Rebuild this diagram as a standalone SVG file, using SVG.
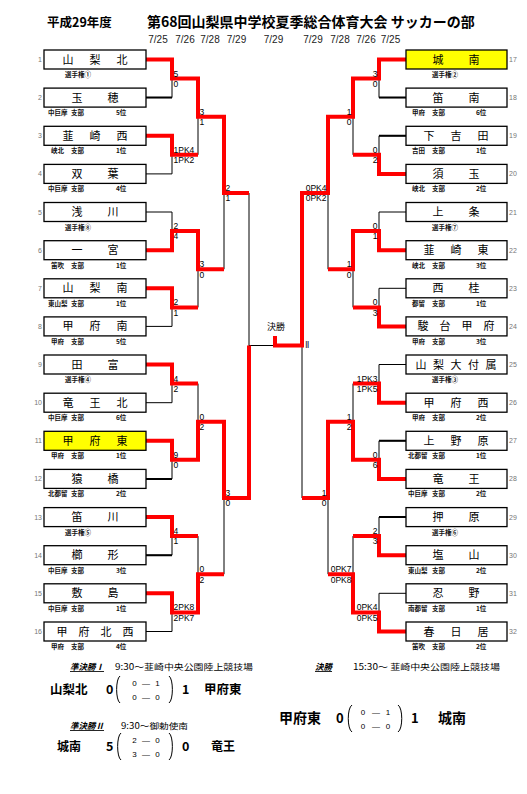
<svg xmlns="http://www.w3.org/2000/svg" width="527" height="794" viewBox="0 0 527 794">
<style>
.box{fill:#fff;stroke:#000;stroke-width:1.3}
.yel{fill:#ffff00}
.nm{font-family:"Noto Sans CJK JP",sans-serif;font-size:11px;text-anchor:middle;fill:#000}
.no{font-family:"Liberation Sans",sans-serif;font-size:7px;fill:#777}
.nl{text-anchor:end}
.sub{font-family:"Noto Sans CJK JP",sans-serif;font-size:6.5px;font-weight:bold;fill:#111}
.sc{font-family:"Liberation Sans",sans-serif;font-size:8.5px;fill:#000}
.scr{text-anchor:end}
.bk{fill:none;stroke:#000;stroke-width:1}
.bk2{fill:none;stroke:#000;stroke-width:2}
.rd{fill:none;stroke:#f00;stroke-width:4;stroke-linejoin:miter}
.hd{font-family:"Noto Sans CJK JP",sans-serif;fill:#000}
.dt{font-family:"Liberation Sans",sans-serif;font-size:10px;text-anchor:middle;fill:#222}
.bt{font-family:"Noto Sans CJK JP",sans-serif;font-size:8.5px;fill:#000}
.ttl{font-family:"Noto Sans CJK JP",sans-serif;font-size:8.5px;font-weight:bold;font-style:italic;text-decoration:underline;fill:#000}
.big{font-family:"Noto Sans CJK JP",sans-serif;font-weight:bold;fill:#000}
.in{font-family:"Liberation Sans",sans-serif;font-size:8px;text-anchor:middle;fill:#000}
.par{fill:none;stroke:#000;stroke-width:1}
</style>

<g id="header">
<text class="hd" x="47" y="27" font-size="12.5" font-weight="bold">平成29年度</text>
<text class="hd" x="147" y="27" font-size="14" font-weight="bold">第68回山梨県中学校夏季総合体育大会 サッカーの部</text>
<text class="dt" x="158" y="43">7/25</text>
<text class="dt" x="185" y="43">7/26</text>
<text class="dt" x="210" y="43">7/28</text>
<text class="dt" x="236.5" y="43">7/29</text>
<text class="dt" x="273.5" y="43">7/29</text>
<text class="dt" x="313" y="43">7/29</text>
<text class="dt" x="340" y="43">7/28</text>
<text class="dt" x="366" y="43">7/26</text>
<text class="dt" x="390.5" y="43">7/25</text>
</g>

<g id="connectors">
<path class="bk" d="M146,59.5H172V97.6H146 M146,135.8H172V173.9H146 M146,212H172V250.2H146 M146,288.3H172V326.4H146 M146,364.5H172V402.7H146 M146,440.8H172V478.9H146 M146,517.1H172V555.2H146 M146,593.3H172V631.5H146 M198,78.6V154.8 M198,231.1V307.4 M198,383.6V459.8 M198,536.1V612.4 M224,116.7V269.2 M224,421.7V574.2 M249,193V498 M249,345.5H302"/>
<path class="bk" d="M406,59.5H379V97.6H406 M406,135.8H379V173.9H406 M406,212H379V250.2H406 M406,288.3H379V326.4H406 M406,364.5H379V402.7H406 M406,440.8H379V478.9H406 M406,517.1H379V555.2H406 M406,593.3H379V631.5H406 M353,78.6V154.8 M353,231.1V307.4 M353,383.6V459.8 M353,536.1V612.4 M328,116.7V269.2 M328,421.7V574.2 M302,193V498"/>
<path class="bk2" d="M146,97.6H172 M146,478.9H172 M146,555.2H172 M406,97.6H379 M406,135.8H379 M406,440.8H379 M406,517.1H379"/>
<path class="rd" d="M146,59.5H172V78.6H198V116.7H224V193H249"/>
<path class="rd" d="M146,135.8H172V154.8H198"/>
<path class="rd" d="M146,250.2H172V231.1H198V269.2H224"/>
<path class="rd" d="M146,288.3H172V307.4H198"/>
<path class="rd" d="M146,364.5H172V383.6H198"/>
<path class="rd" d="M146,440.8H172V459.8H198V421.7H224V498H249V345.5"/>
<path class="rd" d="M146,517.1H172V536.1H198"/>
<path class="rd" d="M146,593.3H172V612.4H198V574.2H224"/>
<path class="rd" d="M406,59.5H379V78.6H353V116.7H328V193H302V345.5H275V336"/>
<path class="rd" d="M406,173.9H379V154.8H353"/>
<path class="rd" d="M406,250.2H379V231.1H353V269.2H328"/>
<path class="rd" d="M406,326.4H379V307.4H353"/>
<path class="rd" d="M406,402.7H379V383.6H353"/>
<path class="rd" d="M406,478.9H379V459.8H353V421.7H328V498H302"/>
<path class="rd" d="M406,555.2H379V536.1H353"/>
<path class="rd" d="M406,631.5H379V612.4H353V574.2H328"/>
</g>

<g id="scores">
<text class="sc" x="173.5" y="76.6">5</text><text class="sc" x="173.5" y="86.9">0</text>
<text class="sc" x="173.5" y="152.8">1PK4</text><text class="sc" x="173.5" y="163.1">1PK2</text>
<text class="sc" x="173.5" y="229.1">2</text><text class="sc" x="173.5" y="239.4">4</text>
<text class="sc" x="173.5" y="305.4">2</text><text class="sc" x="173.5" y="315.7">1</text>
<text class="sc" x="173.5" y="381.6">4</text><text class="sc" x="173.5" y="391.9">2</text>
<text class="sc" x="173.5" y="457.8">9</text><text class="sc" x="173.5" y="468.1">0</text>
<text class="sc" x="173.5" y="534.1">4</text><text class="sc" x="173.5" y="544.4">1</text>
<text class="sc" x="173.5" y="610.4">2PK8</text><text class="sc" x="173.5" y="620.7">2PK7</text>
<text class="sc" x="199.5" y="114.7">3</text><text class="sc" x="199.5" y="125">1</text>
<text class="sc" x="199.5" y="267.2">3</text><text class="sc" x="199.5" y="277.5">0</text>
<text class="sc" x="199.5" y="419.7">0</text><text class="sc" x="199.5" y="430">2</text>
<text class="sc" x="199.5" y="572.2">0</text><text class="sc" x="199.5" y="582.5">2</text>
<text class="sc" x="225.5" y="191">2</text><text class="sc" x="225.5" y="201.3">1</text>
<text class="sc" x="225.5" y="496">3</text><text class="sc" x="225.5" y="506.3">0</text>

<text class="sc scr" x="377.5" y="76.6">3</text><text class="sc scr" x="377.5" y="86.9">0</text>
<text class="sc scr" x="377.5" y="152.8">0</text><text class="sc scr" x="377.5" y="163.1">2</text>
<text class="sc scr" x="377.5" y="229.1">0</text><text class="sc scr" x="377.5" y="239.4">1</text>
<text class="sc scr" x="377.5" y="305.4">0</text><text class="sc scr" x="377.5" y="315.7">3</text>
<text class="sc scr" x="377.5" y="381.6">1PK3</text><text class="sc scr" x="377.5" y="391.9">1PK5</text>
<text class="sc scr" x="377.5" y="457.8">0</text><text class="sc scr" x="377.5" y="468.1">6</text>
<text class="sc scr" x="377.5" y="534.1">2</text><text class="sc scr" x="377.5" y="544.4">3</text>
<text class="sc scr" x="377.5" y="610.4">0PK4</text><text class="sc scr" x="377.5" y="620.7">0PK5</text>
<text class="sc scr" x="351.5" y="114.7">1</text><text class="sc scr" x="351.5" y="125">0</text>
<text class="sc scr" x="351.5" y="267.2">1</text><text class="sc scr" x="351.5" y="277.5">0</text>
<text class="sc scr" x="351.5" y="419.7">1</text><text class="sc scr" x="351.5" y="430">2</text>
<text class="sc scr" x="351.5" y="572.2">0PK7</text><text class="sc scr" x="351.5" y="582.5">0PK8</text>
<text class="sc scr" x="326.5" y="191">0PK4</text><text class="sc scr" x="326.5" y="201.3">0PK2</text>
<text class="sc scr" x="326.5" y="496">1</text><text class="sc scr" x="326.5" y="506.3">0</text>

<text class="hd" x="276" y="330" font-size="9" text-anchor="middle">決勝</text>
<text x="305" y="348" font-family="Liberation Serif, serif" font-size="8.5" fill="#223">Ⅱ</text>
</g>

<g id="n1" transform="translate(0,50)"><rect class="box" x="44" y="0" width="102" height="19"/><text class="nm" x="68 95 122" y="13.5">山梨北</text><text class="no nl" x="42" y="12">1</text><text class="sub" x="65" y="27">選手権①</text></g>
<g id="n2" transform="translate(0,88.1)"><rect class="box" x="44" y="0" width="102" height="19"/><text class="nm" x="77 113" y="13.5">玉穂</text><text class="no nl" x="42" y="12">2</text><text class="sub" y="27"><tspan x="48">中巨摩</tspan><tspan x="71">支部</tspan><tspan x="116">5位</tspan></text></g>
<g id="n3" transform="translate(0,126.3)"><rect class="box" x="44" y="0" width="102" height="19"/><text class="nm" x="68 95 122" y="13.5">韮崎西</text><text class="no nl" x="42" y="12">3</text><text class="sub" y="27"><tspan x="51">峡北</tspan><tspan x="71">支部</tspan><tspan x="116">1位</tspan></text></g>
<g id="n4" transform="translate(0,164.4)"><rect class="box" x="44" y="0" width="102" height="19"/><text class="nm" x="77 113" y="13.5">双葉</text><text class="no nl" x="42" y="12">4</text><text class="sub" y="27"><tspan x="48">中巨摩</tspan><tspan x="71">支部</tspan><tspan x="116">4位</tspan></text></g>
<g id="n5" transform="translate(0,202.5)"><rect class="box" x="44" y="0" width="102" height="19"/><text class="nm" x="77 113" y="13.5">浅川</text><text class="no nl" x="42" y="12">5</text><text class="sub" x="65" y="27">選手権⑧</text></g>
<g id="n6" transform="translate(0,240.7)"><rect class="box" x="44" y="0" width="102" height="19"/><text class="nm" x="77 113" y="13.5">一宮</text><text class="no nl" x="42" y="12">6</text><text class="sub" y="27"><tspan x="51">笛吹</tspan><tspan x="71">支部</tspan><tspan x="116">1位</tspan></text></g>
<g id="n7" transform="translate(0,278.8)"><rect class="box" x="44" y="0" width="102" height="19" stroke-width="2"/><text class="nm" x="68 95 122" y="13.5">山梨南</text><text class="no nl" x="42" y="12">7</text><text class="sub" y="27"><tspan x="48">東山梨</tspan><tspan x="71">支部</tspan><tspan x="116">1位</tspan></text></g>
<g id="n8" transform="translate(0,316.9)"><rect class="box" x="44" y="0" width="102" height="19"/><text class="nm" x="68 95 122" y="13.5">甲府南</text><text class="no nl" x="42" y="12">8</text><text class="sub" y="27"><tspan x="51">甲府</tspan><tspan x="71">支部</tspan><tspan x="116">5位</tspan></text></g>
<g id="n9" transform="translate(0,355)"><rect class="box" x="44" y="0" width="102" height="19" stroke-width="2"/><text class="nm" x="77 113" y="13.5">田富</text><text class="no nl" x="42" y="12">9</text><text class="sub" x="65" y="27">選手権④</text></g>
<g id="n10" transform="translate(0,393.2)"><rect class="box" x="44" y="0" width="102" height="19"/><text class="nm" x="68 95 122" y="13.5">竜王北</text><text class="no nl" x="42" y="12">10</text><text class="sub" y="27"><tspan x="48">中巨摩</tspan><tspan x="71">支部</tspan><tspan x="116">6位</tspan></text></g>
<g id="n11" transform="translate(0,431.3)"><rect class="box yel" x="44" y="0" width="102" height="19"/><text class="nm" x="68 95 122" y="13.5">甲府東</text><text class="no nl" x="42" y="12">11</text><text class="sub" y="27"><tspan x="51">甲府</tspan><tspan x="71">支部</tspan><tspan x="116">1位</tspan></text></g>
<g id="n12" transform="translate(0,469.4)"><rect class="box" x="44" y="0" width="102" height="19"/><text class="nm" x="77 113" y="13.5">猿橋</text><text class="no nl" x="42" y="12">12</text><text class="sub" y="27"><tspan x="48">北都留</tspan><tspan x="71">支部</tspan><tspan x="116">2位</tspan></text></g>
<g id="n13" transform="translate(0,507.6)"><rect class="box" x="44" y="0" width="102" height="19"/><text class="nm" x="77 113" y="13.5">笛川</text><text class="no nl" x="42" y="12">13</text><text class="sub" x="65" y="27">選手権⑤</text></g>
<g id="n14" transform="translate(0,545.7)"><rect class="box" x="44" y="0" width="102" height="19"/><text class="nm" x="77 113" y="13.5">櫛形</text><text class="no nl" x="42" y="12">14</text><text class="sub" y="27"><tspan x="48">中巨摩</tspan><tspan x="71">支部</tspan><tspan x="116">3位</tspan></text></g>
<g id="n15" transform="translate(0,583.8)"><rect class="box" x="44" y="0" width="102" height="19"/><text class="nm" x="77 113" y="13.5">敷島</text><text class="no nl" x="42" y="12">15</text><text class="sub" y="27"><tspan x="48">中巨摩</tspan><tspan x="71">支部</tspan><tspan x="116">1位</tspan></text></g>
<g id="n16" transform="translate(0,622)"><rect class="box" x="44" y="0" width="102" height="19" stroke-width="2"/><text class="nm" x="62 84 106 128" y="13.5">甲府北西</text><text class="no nl" x="42" y="12">16</text><text class="sub" y="27"><tspan x="51">甲府</tspan><tspan x="71">支部</tspan><tspan x="116">4位</tspan></text></g>

<g id="n17" transform="translate(0,50)"><rect class="box yel" x="406" y="0" width="101" height="19"/><text class="nm" x="438 474" y="13.5">城南</text><text class="no" x="509" y="12">17</text><text class="sub" x="432" y="27">選手権②</text></g>
<g id="n18" transform="translate(0,88.1)"><rect class="box" x="406" y="0" width="101" height="19"/><text class="nm" x="438 474" y="13.5">笛南</text><text class="no" x="509" y="12">18</text><text class="sub" y="27"><tspan x="412">甲府</tspan><tspan x="432">支部</tspan><tspan x="476">6位</tspan></text></g>
<g id="n19" transform="translate(0,126.3)"><rect class="box" x="406" y="0" width="101" height="19"/><text class="nm" x="429 456 483" y="13.5">下吉田</text><text class="no" x="509" y="12">19</text><text class="sub" y="27"><tspan x="412">吉田</tspan><tspan x="432">支部</tspan><tspan x="476">1位</tspan></text></g>
<g id="n20" transform="translate(0,164.4)"><rect class="box" x="406" y="0" width="101" height="19"/><text class="nm" x="438 474" y="13.5">須玉</text><text class="no" x="509" y="12">20</text><text class="sub" y="27"><tspan x="412">峡北</tspan><tspan x="432">支部</tspan><tspan x="476">2位</tspan></text></g>
<g id="n21" transform="translate(0,202.5)"><rect class="box" x="406" y="0" width="101" height="19"/><text class="nm" x="438 474" y="13.5">上条</text><text class="no" x="509" y="12">21</text><text class="sub" x="432" y="27">選手権⑦</text></g>
<g id="n22" transform="translate(0,240.7)"><rect class="box" x="406" y="0" width="101" height="19" stroke-width="2"/><text class="nm" x="429 456 483" y="13.5">韮崎東</text><text class="no" x="509" y="12">22</text><text class="sub" y="27"><tspan x="412">峡北</tspan><tspan x="432">支部</tspan><tspan x="476">3位</tspan></text></g>
<g id="n23" transform="translate(0,278.8)"><rect class="box" x="406" y="0" width="101" height="19"/><text class="nm" x="438 474" y="13.5">西桂</text><text class="no" x="509" y="12">23</text><text class="sub" y="27"><tspan x="412">都留</tspan><tspan x="432">支部</tspan><tspan x="476">1位</tspan></text></g>
<g id="n24" transform="translate(0,316.9)"><rect class="box" x="406" y="0" width="101" height="19" stroke-width="2"/><text class="nm" x="423 445 467 489" y="13.5">駿台甲府</text><text class="no" x="509" y="12">24</text><text class="sub" y="27"><tspan x="412">甲府</tspan><tspan x="432">支部</tspan><tspan x="476">3位</tspan></text></g>
<g id="n25" transform="translate(0,355)"><rect class="box" x="406" y="0" width="101" height="19" stroke-width="2"/><text class="nm" x="421 438.5 456 473.5 491" y="13.5">山梨大付属</text><text class="no" x="509" y="12">25</text><text class="sub" x="432" y="27">選手権③</text></g>
<g id="n26" transform="translate(0,393.2)"><rect class="box" x="406" y="0" width="101" height="19"/><text class="nm" x="429 456 483" y="13.5">甲府西</text><text class="no" x="509" y="12">26</text><text class="sub" y="27"><tspan x="412">甲府</tspan><tspan x="432">支部</tspan><tspan x="476">2位</tspan></text></g>
<g id="n27" transform="translate(0,431.3)"><rect class="box" x="406" y="0" width="101" height="19"/><text class="nm" x="429 456 483" y="13.5">上野原</text><text class="no" x="509" y="12">27</text><text class="sub" y="27"><tspan x="408">北都留</tspan><tspan x="432">支部</tspan><tspan x="476">1位</tspan></text></g>
<g id="n28" transform="translate(0,469.4)"><rect class="box" x="406" y="0" width="101" height="19"/><text class="nm" x="438 474" y="13.5">竜王</text><text class="no" x="509" y="12">28</text><text class="sub" y="27"><tspan x="408">中巨摩</tspan><tspan x="432">支部</tspan><tspan x="476">2位</tspan></text></g>
<g id="n29" transform="translate(0,507.6)"><rect class="box" x="406" y="0" width="101" height="19"/><text class="nm" x="438 474" y="13.5">押原</text><text class="no" x="509" y="12">29</text><text class="sub" x="432" y="27">選手権⑥</text></g>
<g id="n30" transform="translate(0,545.7)"><rect class="box" x="406" y="0" width="101" height="19"/><text class="nm" x="438 474" y="13.5">塩山</text><text class="no" x="509" y="12">30</text><text class="sub" y="27"><tspan x="408">東山梨</tspan><tspan x="432">支部</tspan><tspan x="476">2位</tspan></text></g>
<g id="n31" transform="translate(0,583.8)"><rect class="box" x="406" y="0" width="101" height="19"/><text class="nm" x="438 474" y="13.5">忍野</text><text class="no" x="509" y="12">31</text><text class="sub" y="27"><tspan x="408">南都留</tspan><tspan x="432">支部</tspan><tspan x="476">1位</tspan></text></g>
<g id="n32" transform="translate(0,622)"><rect class="box" x="406" y="0" width="101" height="19"/><text class="nm" x="429 456 483" y="13.5">春日居</text><text class="no" x="509" y="12">32</text><text class="sub" y="27"><tspan x="412">笛吹</tspan><tspan x="432">支部</tspan><tspan x="476">2位</tspan></text></g>

<g id="semi1">
<text class="ttl" x="70" y="670">準決勝Ⅰ</text>
<text class="bt" x="115" y="670" textLength="138" lengthAdjust="spacingAndGlyphs">9:30～韮崎中央公園陸上競技場</text>
<text class="big" x="50" y="694" font-size="12.5">山梨北</text>
<text class="big" x="106" y="694" font-size="12.5">0</text>
<path class="par" d="M120,676 C115.5,679 115.5,700 120,703"/>
<text class="in" x="134.5" y="686">0</text><text class="in" x="146" y="686">—</text><text class="in" x="157.5" y="686">1</text>
<text class="in" x="134.5" y="700">0</text><text class="in" x="146" y="700">—</text><text class="in" x="157.5" y="700">0</text>
<path class="par" d="M169,676 C173.5,679 173.5,700 169,703"/>
<text class="big" x="182" y="694" font-size="12.5">1</text>
<text class="big" x="204" y="694" font-size="12.5">甲府東</text>
</g>

<g id="semi2">
<text class="ttl" x="70" y="729">準決勝Ⅱ</text>
<text class="bt" x="121" y="729" textLength="67" lengthAdjust="spacingAndGlyphs">9:30～御勅使南</text>
<text class="big" x="57" y="751" font-size="12">城南</text>
<text class="big" x="106" y="751" font-size="12.5">5</text>
<path class="par" d="M121,733 C116.5,736 116.5,757 121,760"/>
<text class="in" x="134.5" y="743">2</text><text class="in" x="146" y="743">—</text><text class="in" x="157.5" y="743">0</text>
<text class="in" x="134.5" y="757">3</text><text class="in" x="146" y="757">—</text><text class="in" x="157.5" y="757">0</text>
<path class="par" d="M169,733 C173.5,736 173.5,757 169,760"/>
<text class="big" x="182" y="751" font-size="12.5">0</text>
<text class="big" x="211" y="751" font-size="12">竜王</text>
</g>

<g id="final">
<text class="ttl" x="315" y="670">決勝</text>
<text class="bt" x="353" y="670" textLength="147" lengthAdjust="spacingAndGlyphs">15:30～ 韮崎中央公園陸上競技場</text>
<text class="big" x="279" y="723" font-size="14">甲府東</text>
<text class="big" x="336" y="723" font-size="13">0</text>
<path class="par" d="M352,705 C347,708 347,729 352,732"/>
<text class="in" x="363" y="715">0</text><text class="in" x="376" y="715">—</text><text class="in" x="388" y="715">1</text>
<text class="in" x="363" y="729">0</text><text class="in" x="376" y="729">—</text><text class="in" x="388" y="729">0</text>
<path class="par" d="M398,705 C403,708 403,729 398,732"/>
<text class="big" x="411" y="723" font-size="13">1</text>
<text class="big" x="438" y="723" font-size="14">城南</text>
</g>
</svg>
